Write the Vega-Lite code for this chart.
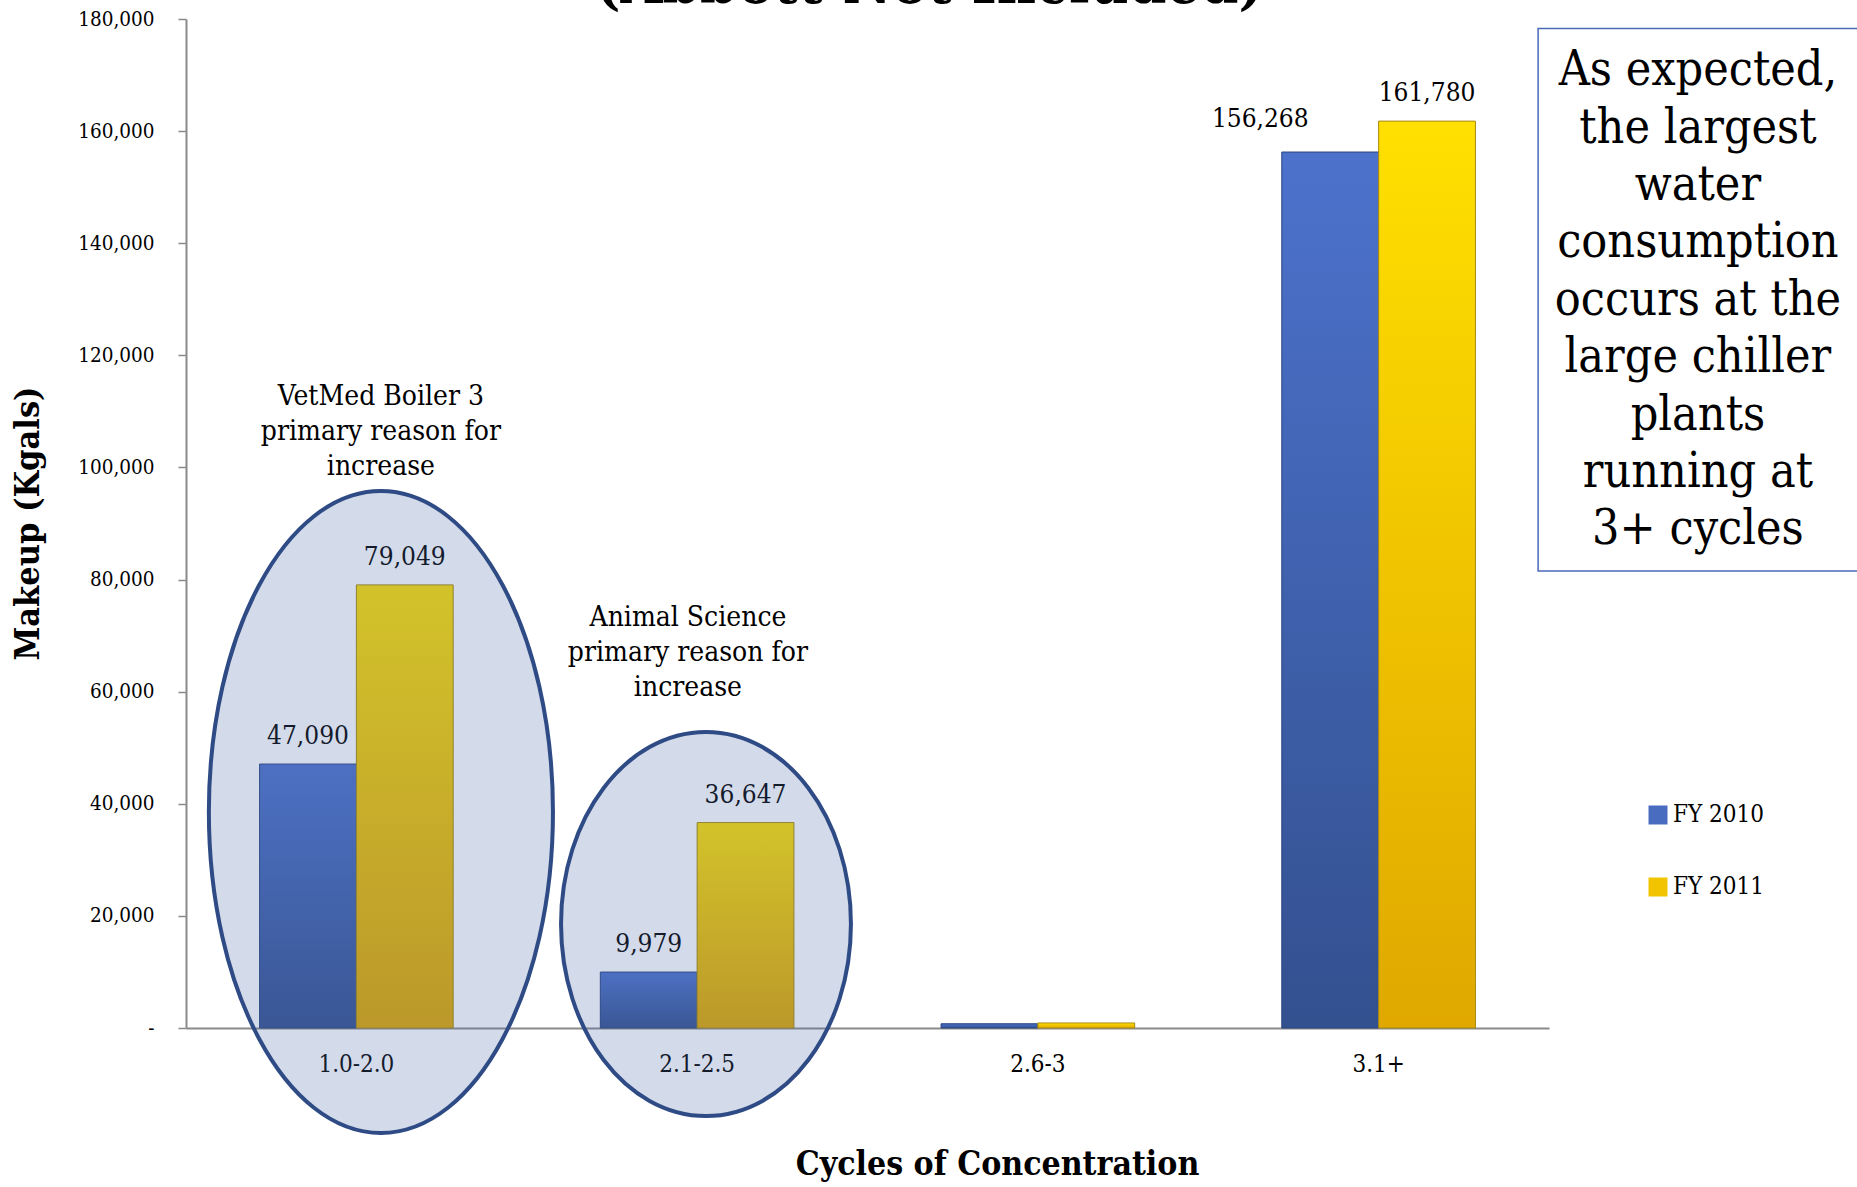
{
  "$schema": "https://vega.github.io/schema/vega-lite/v6.json",
  "autosize": {"type": "none"},
  "padding": {"left": 186, "top": 19, "right": 308, "bottom": 159},
  "width": 1363,
  "height": 1009,
  "background": "white",
  "config": {
    "font": "DejaVu Serif Condensed",
    "view": {"stroke": null},
    "text": {"font": "DejaVu Serif Condensed", "color": "#000000"}
  },
  "title": {
    "text": "(Abbott Not Included)",
    "font": "DejaVu Serif Condensed",
    "fontWeight": "bold",
    "fontSize": 60,
    "color": "#000000",
    "anchor": "middle",
    "frame": "group",
    "baseline": "alphabetic",
    "offset": 0,
    "dx": 62,
    "dy": 54
  },
  "datasets": {
    "bars": [
      {"cycle": "1.0-2.0", "series": "FY 2010", "value": 47090},
      {"cycle": "1.0-2.0", "series": "FY 2011", "value": 79049},
      {"cycle": "2.1-2.5", "series": "FY 2010", "value": 9979},
      {"cycle": "2.1-2.5", "series": "FY 2011", "value": 36647},
      {"cycle": "2.6-3", "series": "FY 2010", "value": 750},
      {"cycle": "2.6-3", "series": "FY 2011", "value": 900},
      {"cycle": "3.1+", "series": "FY 2010", "value": 156268},
      {"cycle": "3.1+", "series": "FY 2011", "value": 161780}
    ],
    "ellipses": [
      {"id": "VetMed", "ax": 0.572, "ay": 38534},
      {"id": "Animal", "ax": 1.526, "ay": 18553}
    ],
    "notes": [
      {"note": "VetMed Boiler 3\nprimary reason for\nincrease", "ax": 0.572, "ay": 112567},
      {"note": "Animal Science\nprimary reason for\nincrease", "ax": 1.473, "ay": 73142}
    ],
    "box": [
      {"ax": 3.968, "ax2": 4.95, "ay": 178306, "ay2": 81526, "ax_text": 4.437, "ay_text": 170700,
       "msg": "As expected,\nthe largest\nwater\nconsumption\noccurs at the\nlarge chiller\nplants\nrunning at\n3+ cycles"}
    ]
  },
  "resolve": {"scale": {"x": "independent"}, "axis": {"x": "independent", "y": "independent"}},
  "layer": [
    {
      "data": {"name": "bars"},
      "encoding": {
        "x": {
          "field": "cycle", "type": "nominal", "sort": null,
          "scale": {"paddingInner": 0, "paddingOuter": 0},
          "axis": {
            "title": "Cycles of Concentration",
            "titleFont": "DejaVu Serif Condensed", "titleFontWeight": "bold", "titleFontSize": 33.5, "titleColor": "#000000",
            "titleX": 811, "titleY": 136, "titleBaseline": "middle", "titleAlign": "center", "titleAnchor": null,
            "labelAngle": 0, "labelFont": "DejaVu Serif Condensed", "labelFontSize": 24, "labelColor": "#000000", "labelPadding": 24,
            "ticks": false, "domainColor": "#8a8a8a", "domainWidth": 2, "grid": false
          }
        },
        "xOffset": {"field": "series", "type": "nominal", "scale": {"paddingInner": 0, "paddingOuter": 0.76}},
        "y": {
          "field": "value", "type": "quantitative",
          "scale": {"domain": [0, 180000], "nice": false, "zero": true},
          "axis": {
            "title": "Makeup (Kgals)",
            "titleFont": "DejaVu Serif Condensed", "titleFontWeight": "bold", "titleFontSize": 34, "titleColor": "#000000",
            "titleX": -158, "titleY": 504, "titleAngle": -90, "titleBaseline": "middle", "titleAlign": "center", "titleAnchor": null,
            "values": [0, 20000, 40000, 60000, 80000, 100000, 120000, 140000, 160000, 180000],
            "labelExpr": "datum.value == 0 ? '-' : format(datum.value, ',')",
            "labelFont": "DejaVu Serif Condensed", "labelFontSize": 20.5, "labelColor": "#000000", "labelPadding": 24,
            "tickSize": 8, "tickColor": "#8a8a8a", "tickWidth": 1.5,
            "domainColor": "#8a8a8a", "domainWidth": 2, "grid": false
          }
        }
      },
      "layer": [
        {
          "mark": {"type": "bar"},
          "encoding": {
            "color": {
              "field": "series", "type": "nominal",
              "scale": {"domain": ["FY 2010", "FY 2011"], "range": ["#4A6CC0", "#F2C400"]},
              "legend": {
                "title": null, "orient": "none", "legendX": 1460, "legendY": 784,
                "symbolType": "square", "symbolSize": 361, "symbolStrokeWidth": 0,
                "labelFont": "DejaVu Serif Condensed", "labelFontSize": 24, "labelColor": "#000000",
                "labelOffset": 3, "rowPadding": 48, "padding": 0
              }
            }
          }
        },
        {
          "transform": [{"filter": "datum.series == 'FY 2010'"}],
          "mark": {
            "type": "bar", "stroke": "#2C4680", "strokeWidth": 1,
            "color": {"gradient": "linear", "x1": 0, "y1": 0, "x2": 0, "y2": 1,
              "stops": [{"offset": 0, "color": "#4C72CC"}, {"offset": 1, "color": "#33508F"}]}
          }
        },
        {
          "transform": [{"filter": "datum.series == 'FY 2011'"}],
          "mark": {
            "type": "bar", "stroke": "#A88A10", "strokeWidth": 1,
            "color": {"gradient": "linear", "x1": 0, "y1": 0, "x2": 0, "y2": 1,
              "stops": [{"offset": 0, "color": "#FFE000"}, {"offset": 1, "color": "#E0A800"}]}
          }
        },
        {
          "transform": [{"filter": "datum.value > 5000 && !(datum.cycle == '3.1+' && datum.series == 'FY 2010')"}],
          "mark": {"type": "text", "baseline": "alphabetic", "dy": -20, "fontSize": 26, "color": "#000000"},
          "encoding": {"text": {"field": "value", "type": "quantitative", "format": ","}}
        },
        {
          "transform": [{"filter": "datum.cycle == '3.1+' && datum.series == 'FY 2010'"}],
          "mark": {"type": "text", "baseline": "alphabetic", "dy": -25, "dx": -70, "fontSize": 26, "color": "#000000"},
          "encoding": {"text": {"field": "value", "type": "quantitative", "format": ","}}
        }
      ]
    },
    {
      "encoding": {
        "x": {"field": "ax", "type": "quantitative", "scale": {"domain": [0, 4], "nice": false, "zero": false}, "axis": null},
        "y": {"field": "ay", "type": "quantitative", "scale": {"domain": [0, 180000], "nice": false}, "axis": null}
      },
      "layer": [
        {
          "data": {"name": "ellipses"},
          "transform": [{"filter": "datum.id == 'VetMed'"}],
          "mark": {
            "type": "point", "filled": true, "fill": "#4F6AA8", "fillOpacity": 0.25, "opacity": 1,
            "stroke": "#2F4B85", "strokeWidth": 4, "strokeOpacity": 1, "size": 412164,
            "shape": "M 0.536 0 C 0.536 0.5523 0.296 1 0 1 C -0.296 1 -0.536 0.5523 -0.536 0 C -0.536 -0.5523 -0.296 -1 0 -1 C 0.296 -1 0.536 -0.5523 0.536 0 Z"
          }
        },
        {
          "data": {"name": "ellipses"},
          "transform": [{"filter": "datum.id == 'Animal'"}],
          "mark": {
            "type": "point", "filled": true, "fill": "#4F6AA8", "fillOpacity": 0.25, "opacity": 1,
            "stroke": "#2F4B85", "strokeWidth": 4, "strokeOpacity": 1, "size": 147456,
            "shape": "M 0.755 0 C 0.755 0.5523 0.417 1 0 1 C -0.417 1 -0.755 0.5523 -0.755 0 C -0.755 -0.5523 -0.417 -1 0 -1 C 0.417 -1 0.755 -0.5523 0.755 0 Z"
          }
        },
        {
          "data": {"name": "notes"},
          "mark": {"type": "text", "lineBreak": "\n", "lineHeight": 35, "fontSize": 28, "baseline": "middle", "align": "center", "color": "#000000"},
          "encoding": {"text": {"field": "note"}}
        },
        {
          "data": {"name": "box"},
          "mark": {"type": "rect", "fill": "white", "stroke": "#4A6AB8", "strokeWidth": 1.5},
          "encoding": {
            "x2": {"field": "ax2"},
            "y2": {"field": "ay2"}
          }
        },
        {
          "data": {"name": "box"},
          "mark": {"type": "text", "lineBreak": "\n", "lineHeight": 57.4, "fontSize": 48, "baseline": "middle", "align": "center", "color": "#000000"},
          "encoding": {
            "x": {"field": "ax_text", "type": "quantitative"},
            "y": {"field": "ay_text", "type": "quantitative"},
            "text": {"field": "msg"}
          }
        }
      ]
    }
  ]
}
